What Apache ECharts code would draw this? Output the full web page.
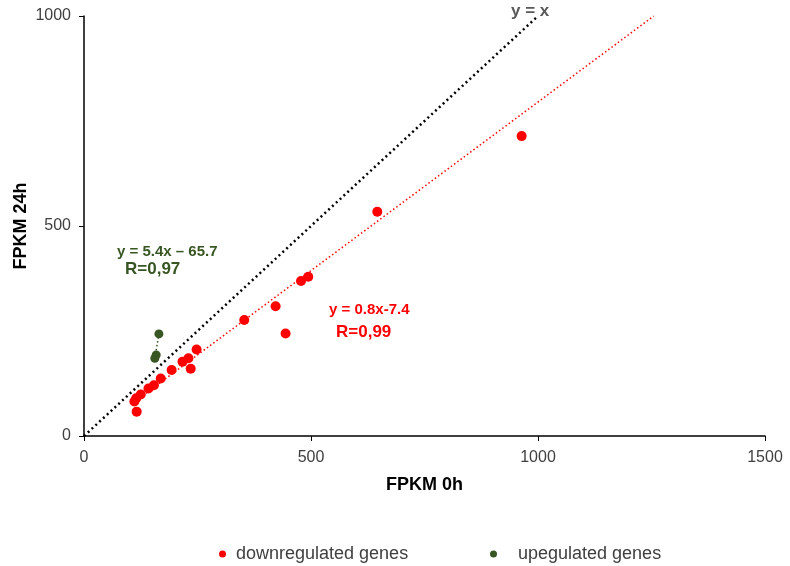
<!DOCTYPE html>
<html>
<head>
<meta charset="utf-8">
<script src="https://cdn.jsdelivr.net/npm/echarts@6/dist/echarts.min.js"></script>
<style>
    html, body { margin: 0; padding: 0; background: #fff; }
    #chart { width: 790px; height: 566px; }
</style>
</head>
<body>
<div id="chart"></div>
<script>
// downregulated genes (FPKM 0h, FPKM 24h)
var downX = [964, 646, 494, 478, 422, 444, 353, 248, 230, 217, 235, 193, 169, 154, 142, 125, 115, 111, 116];
var downY = [714, 534, 379, 369, 309, 244, 276, 206, 185, 177, 160, 157, 137, 121, 113, 99, 90, 82, 58];
// upregulated genes
var upX = [165, 159, 156];
var upY = [243, 193, 185];
// trend lines
var identityX = [0, 1000];
var identityY = [0, 1000];
var downTrendX = [108, 1255];
var downTrendY = [79, 1000];
var upTrendX = [156, 165];
var upTrendY = [185, 243];
// axis ticks
var xTicks = [0, 500, 1000, 1500];
var yTicks = [0, 500, 1000];

function pairs(xs, ys) {
    return xs.map(function (x, i) { return [x, ys[i]]; });
}

var chart = echarts.init(document.getElementById('chart'));
var font = 'Liberation Sans, Arial, sans-serif';
var plain = function (v) { return String(v); }; // no thousands separator

var option = {
    backgroundColor: '#ffffff',
    animation: false,
    textStyle: { fontFamily: font },
    grid: { left: 84, right: 25, top: 16, bottom: 130, containLabel: false, outerBoundsMode: 'none' },
    xAxis: {
        type: 'value',
        min: xTicks[0],
        max: xTicks[xTicks.length - 1],
        interval: 500,
        name: 'FPKM 0h',
        nameLocation: 'middle',
        nameGap: 40,
        nameMoveOverlap: false,
        nameTextStyle: { color: '#000', fontSize: 18, fontWeight: 'bold' },
        splitLine: { show: false },
        axisLine: { lineStyle: { color: '#000', width: 1.5 } },
        axisTick: { show: true, length: 5, lineStyle: { color: '#000' } },
        axisLabel: { color: '#404040', fontSize: 16, margin: 14, formatter: plain }
    },
    yAxis: {
        type: 'value',
        min: yTicks[0],
        max: yTicks[yTicks.length - 1],
        interval: 500,
        name: 'FPKM 24h',
        nameLocation: 'middle',
        nameGap: 54,
        nameMoveOverlap: false,
        nameTextStyle: { color: '#000', fontSize: 18, fontWeight: 'bold' },
        splitLine: { show: false },
        axisLine: { show: true, lineStyle: { color: '#000', width: 1.5 } },
        axisTick: { show: true, length: 5, lineStyle: { color: '#000' } },
        axisLabel: { color: '#404040', fontSize: 16, margin: 13, formatter: plain }
    },
    legend: [
        {
            left: 214,
            top: 540,
            itemWidth: 7,
            itemHeight: 7,
            icon: 'circle',
            data: ['downregulated genes'],
            textStyle: { color: '#404040', fontSize: 18, fontFamily: font, padding: [0, 0, 0, 5] }
        },
        {
            left: 485,
            top: 540,
            itemWidth: 7,
            itemHeight: 7,
            icon: 'circle',
            data: ['upegulated genes'],
            textStyle: { color: '#404040', fontSize: 18, fontFamily: font, padding: [0, 0, 0, 16] }
        }
    ],
    series: [
        {
            name: 'y = x',
            type: 'line',
            data: pairs(identityX, identityY),
            symbol: 'none',
            lineStyle: { color: '#000', width: 2.5, type: [2, 3.2] },
            z: 1
        },
        {
            name: 'down trend',
            type: 'line',
            data: pairs(downTrendX, downTrendY),
            symbol: 'none',
            lineStyle: { color: '#ff0000', width: 1.5, type: [1.5, 2.5] },
            z: 1
        },
        {
            name: 'up trend',
            type: 'line',
            data: pairs(upTrendX, upTrendY),
            symbol: 'none',
            lineStyle: { color: '#375623', width: 1.5, type: [1.5, 2.5] },
            z: 1
        },
        {
            name: 'downregulated genes',
            type: 'scatter',
            data: pairs(downX, downY),
            symbolSize: 10,
            itemStyle: { color: '#ff0000', opacity: 1 },
            z: 3
        },
        {
            name: 'upegulated genes',
            type: 'scatter',
            data: pairs(upX, upY),
            symbolSize: 9,
            itemStyle: { color: '#375623', opacity: 1 },
            z: 3
        }
    ],
    graphic: [
        { type: 'text', left: 511, top: 3, style: { text: 'y = x', fill: '#595959', font: 'bold 17px ' + font } },
        { type: 'text', left: 117, top: 244, style: { text: 'y = 5.4x \u2013 65.7', fill: '#375623', font: 'bold 15px ' + font } },
        { type: 'text', left: 125, top: 261, style: { text: 'R=0,97', fill: '#375623', font: 'bold 17px ' + font } },
        { type: 'text', left: 329, top: 302, style: { text: 'y = 0.8x-7.4', fill: '#ff0000', font: 'bold 15px ' + font } },
        { type: 'text', left: 336, top: 324, style: { text: 'R=0,99', fill: '#ff0000', font: 'bold 17px ' + font } }
    ]
};

chart.setOption(option);
</script>
</body>
</html>
